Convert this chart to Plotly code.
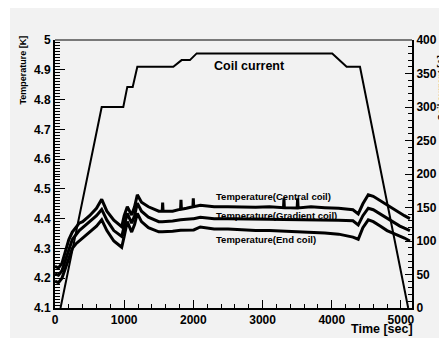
import plotly.graph_objects as go

# ---- data ----
temp_time = [0, 50, 100, 150, 200, 250, 300, 350, 400, 500, 600, 675, 750, 850, 964,
             1000, 1045, 1108, 1150, 1190, 1250, 1350, 1500, 1550, 1556, 1562, 1700,
             1815, 1821, 1827, 1900, 1993, 1999, 2005, 2100, 2300, 2500, 2700, 2900,
             3100, 3303, 3309, 3315, 3500, 3507, 3514, 3700, 3900, 4100, 4306, 4383,
             4450, 4528, 4600, 4700, 4800, 4900, 4985, 5050, 5130]
temp_central = [4.24, 4.235, 4.25, 4.29, 4.33, 4.355, 4.37, 4.385, 4.39, 4.41, 4.435, 4.465,
                4.425, 4.395, 4.373, 4.41, 4.44, 4.412, 4.44, 4.48, 4.455, 4.44, 4.425,
                4.425, 4.454, 4.425, 4.425, 4.432, 4.463, 4.432, 4.435, 4.44, 4.468, 4.44,
                4.445, 4.44, 4.44, 4.438, 4.438, 4.44, 4.437, 4.468, 4.437, 4.436, 4.468,
                4.436, 4.44, 4.437, 4.435, 4.43, 4.416, 4.45, 4.48, 4.475, 4.46, 4.445,
                4.43, 4.418, 4.41, 4.40]
temp_gradient = [4.215, 4.21, 4.225, 4.26, 4.30, 4.33, 4.345, 4.36, 4.37, 4.39, 4.41, 4.431,
                 4.395, 4.36, 4.34, 4.375, 4.418, 4.385, 4.41, 4.452, 4.425, 4.405, 4.39,
                 4.39, 4.39, 4.39, 4.392, 4.396, 4.396, 4.396, 4.398, 4.40, 4.40, 4.40,
                 4.405, 4.40, 4.40, 4.40, 4.398, 4.398, 4.397, 4.397, 4.397, 4.396, 4.396,
                 4.396, 4.396, 4.395, 4.395, 4.393, 4.379, 4.41, 4.435, 4.43, 4.415, 4.40,
                 4.385, 4.375, 4.368, 4.36]
temp_end = [4.19, 4.185, 4.20, 4.235, 4.27, 4.30, 4.315, 4.325, 4.335, 4.355, 4.375, 4.396,
            4.36, 4.325, 4.304, 4.34, 4.39, 4.355, 4.38, 4.418, 4.39, 4.37, 4.356,
            4.356, 4.356, 4.356, 4.358, 4.361, 4.361, 4.361, 4.362, 4.362, 4.362, 4.362,
            4.372, 4.365, 4.365, 4.362, 4.36, 4.36, 4.358, 4.358, 4.358, 4.355, 4.355,
            4.355, 4.355, 4.352, 4.348, 4.338, 4.331, 4.37, 4.396, 4.39, 4.375, 4.36,
            4.35, 4.342, 4.335, 4.325]

coil_time = [80, 675, 987, 1045, 1123, 1190, 1450, 1710, 1830, 1950, 2048, 4007, 4215, 4408, 5105]
coil_current = [0, 300, 300, 330, 330, 360, 360, 360, 370, 370, 380, 380, 360, 360, 0]

x_range = [0, 5160]
temp_range = [4.1, 5.0]
current_range = [0, 400]

label_font = "Liberation Sans, Arial, sans-serif"
tick_font = dict(family=label_font, size=12, color="black", weight="bold")

fig = go.Figure()
for ys in (temp_central, temp_gradient, temp_end):
    fig.add_trace(go.Scatter(x=temp_time, y=ys, mode="lines",
                             line=dict(color="black", width=3), showlegend=False,
                             yaxis="y"))
fig.add_trace(go.Scatter(x=coil_time, y=coil_current, mode="lines",
                         line=dict(color="black", width=2), showlegend=False,
                         yaxis="y2"))

# page body has an 8px margin, so the figure is sized/offset to compensate
fig.update_layout(
    width=439, height=330,
    margin=dict(l=47, r=35, t=32, b=30, autoexpand=False),
    paper_bgcolor="white",
    plot_bgcolor="rgba(0,0,0,0)",
    xaxis=dict(range=x_range, dtick=1000, ticks="inside", ticklen=8, tickwidth=1,
               tickcolor="black", showline=True, linecolor="black", linewidth=2,
               showgrid=False, zeroline=False, tickfont=tick_font,
               minor=dict(dtick=200, ticks="inside", ticklen=4, tickcolor="black")),
    yaxis=dict(range=temp_range, dtick=0.1, ticks="inside", ticklen=10, tickwidth=1,
               tickcolor="black", showline=True, linecolor="black", linewidth=2,
               showgrid=False, zeroline=False, tickfont=tick_font, tickformat="~g",
               minor=dict(dtick=0.01, ticks="inside", ticklen=5, tickcolor="black")),
    yaxis2=dict(range=current_range, dtick=50, ticks="inside", ticklen=7, tickwidth=1,
                tickcolor="black", showline=True, linecolor="black", linewidth=2,
                showgrid=False, zeroline=False, tickfont=tick_font, side="right",
                overlaying="y",
                minor=dict(dtick=10, ticks="inside", ticklen=4, tickcolor="black")),
)

# gray canvas pad and top frame line
fig.add_shape(type="rect", xref="paper", yref="paper", x0=-0.126, x1=1.2, y0=-0.2, y1=1.2,
              fillcolor="#f2f2f2", line=dict(width=0), layer="below")
fig.add_shape(type="line", xref="paper", yref="paper", x0=0, x1=1, y0=1, y1=1,
              line=dict(color="black", width=1))

ann_font = dict(family=label_font, color="black", weight="bold")
fig.add_annotation(text="Coil current", x=2808, y=4.914, xref="x", yref="y",
                   showarrow=False, font=dict(**ann_font, size=12.5))
fig.add_annotation(text="Temperature(Central coil)", x=2298, y=4.476, xref="x", yref="y",
                   xanchor="left", showarrow=False, font=dict(**ann_font, size=9.5))
fig.add_annotation(text="Temperature(Gradient coil)", x=2298, y=4.409, xref="x", yref="y",
                   xanchor="left", showarrow=False, font=dict(**ann_font, size=9.5))
fig.add_annotation(text="Temperature(End coil)", x=2298, y=4.331, xref="x", yref="y",
                   xanchor="left", showarrow=False, font=dict(**ann_font, size=9.5))
fig.add_annotation(text="Time [sec]", x=1.008, y=-0.078, xref="paper", yref="paper",
                   xanchor="right", yanchor="middle", showarrow=False,
                   font=dict(**ann_font, size=12.5))
fig.add_annotation(text="Temperature [K]", x=-0.0896, y=0.886, xref="paper", yref="paper",
                   xanchor="center", yanchor="middle",
                   textangle=-90, showarrow=False, font=dict(**ann_font, size=9))
fig.add_annotation(text="Coil current [A]", x=1.083, y=0.82, xref="paper", yref="paper",
                   xanchor="center", yanchor="middle",
                   textangle=-90, showarrow=False, font=dict(**ann_font, size=9))

fig.write_html("out.html")
